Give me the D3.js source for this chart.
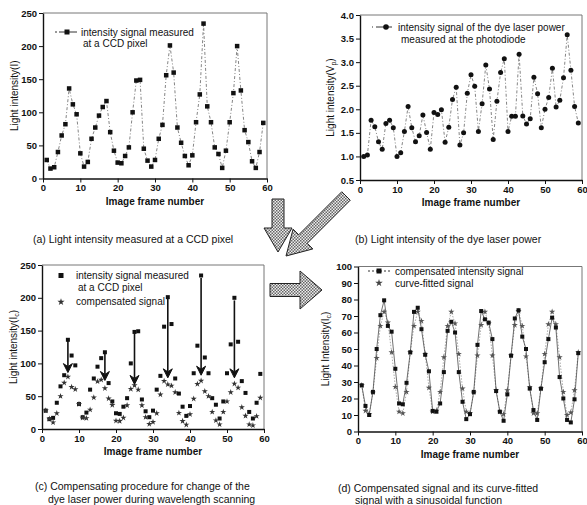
<!DOCTYPE html>
<html><head><meta charset="utf-8">
<script src="https://cdn.jsdelivr.net/npm/d3@7"></script>
<style>
body{margin:0;background:#fff}
svg{display:block}
text{font-family:"Liberation Sans",Arial,sans-serif;fill:#111}
</style>
</head><body>
<svg id="chart" width="587" height="505"></svg>
<script>
// ---------------- data ----------------
const frames = [1,2,3,4,5,6,7,8,9,10,11,12,13,14,15,16,17,18,19,20,21,22,23,24,25,26,27,28,29,30,
  31,32,33,34,35,36,37,38,39,40,41,42,43,44,45,46,47,48,49,50,51,52,53,54,55,56,57,58,59];
const ccdSignal = [28,15,17,40,65,82,136,112,97,38,18,25,60,77,95,108,117,70,42,24,23,34,47,100,148,149,
  45,27,18,28,60,81,156,201,160,77,54,34,20,35,85,127,234,109,85,47,37,16,42,85,129,200,133,73,55,26,16,40,84];
const laserPower = [1.00,1.03,1.77,1.63,1.31,1.15,1.70,1.77,1.61,1.00,1.08,1.53,2.06,1.61,1.31,1.44,1.88,1.51,
  1.15,1.93,1.89,1.99,1.30,1.62,2.21,2.47,1.24,1.50,2.34,2.73,2.49,1.53,2.12,2.94,2.43,1.36,2.17,2.78,3.07,
  1.53,1.85,1.85,3.17,1.86,1.69,1.80,2.68,2.33,1.61,2.00,2.25,2.87,2.05,2.19,2.67,3.58,2.83,2.06,1.71];
const compensated = [28,15.5,10,24,50,70.5,79.5,64,60.5,38,17,16.5,29.5,48,72.5,75,62,46.5,36.5,12.5,12,17,
  36,61,66.5,60,36,18,7.5,10.5,24,52.5,73,68,66,56,24.5,12,6.5,22.5,46,68.5,73.5,57.5,50,26,13,7,26,42,56,69,63,
  33,20,7,5.5,19.5,47.5];
const curveFitted = [28,12.5,10.5,23.5,44.5,64,72.5,66,48,27,12,11,24,48,64,72.5,67,47,26.5,12,12.5,24,
  45,64,72.5,65.5,47,26,12,11,23.5,46,64.5,72.5,65.5,46,25,12,10.5,25,46,64.5,73,64,45.5,27,11,11,26,47,65,
  72.5,65,45,24,10,11.5,25,48];
const arrowFrames = [7,17,25,34,43,52];
const arrowFrom   = [134,115,146,198,230,196];
const arrowTo     = [86,74,68,78,82,78];
const xTicks  = [0,10,20,30,40,50,60];
const yTicksI = [0,50,100,150,200,250];
const yTicksV = [0.5,1.0,1.5,2.0,2.5,3.0,3.5,4.0];
const yTicksC = [0,10,20,30,40,50,60,70,80,90,100];

// ---------------- drawing ----------------
const svg = d3.select("#chart");
const defs = svg.append("defs");
const pat = defs.append("pattern").attr("id","hatch").attr("patternUnits","userSpaceOnUse")
  .attr("width",3).attr("height",3);
pat.append("rect").attr("width",3).attr("height",3).attr("fill","#eee");
pat.append("rect").attr("width",1.5).attr("height",1.5).attr("fill","#666");
pat.append("rect").attr("x",1.5).attr("y",1.5).attr("width",1.5).attr("height",1.5).attr("fill","#666");

function panel(cfg){
  const x = d3.scaleLinear().domain([0,60]).range([cfg.x0,cfg.x1]);
  const y = d3.scaleLinear().domain(cfg.yDomain).range([cfg.yBot,cfg.yTop]);
  const g = svg.append("g");
  g.append("line").attr("x1",cfg.x0).attr("x2",cfg.x1).attr("y1",cfg.yTop).attr("y2",cfg.yTop)
    .attr("stroke","#777").attr("stroke-width",1);
  g.append("line").attr("x1",cfg.x1).attr("x2",cfg.x1).attr("y1",cfg.yTop).attr("y2",cfg.yBot)
    .attr("stroke","#777").attr("stroke-width",1);
  const ax = g.append("g").attr("transform",`translate(0,${cfg.yBot})`)
    .call(d3.axisBottom(x).tickValues(xTicks).tickSize(4).tickSizeOuter(0).tickPadding(2));
  const ay = g.append("g").attr("transform",`translate(${cfg.x0},0)`)
    .call(d3.axisLeft(y).tickValues(cfg.yTicks).tickSize(4).tickSizeOuter(0).tickPadding(2)
      .tickFormat(cfg.fmt));
  [ax,ay].forEach(a=>{
    a.select(".domain").attr("stroke","#111").attr("stroke-width",1.4);
    a.selectAll(".tick line").attr("stroke","#111").attr("stroke-width",1);
    a.selectAll(".tick text").attr("font-size",9.5).attr("font-weight","bold").attr("fill","#222")
      .style("font-family","Liberation Sans, Arial, sans-serif");
  });
  g.append("text").attr("x",(cfg.x0+cfg.x1)/2).attr("y",cfg.yBot+26).attr("text-anchor","middle")
    .attr("font-size",10).attr("font-weight","bold").attr("fill","#333").text("Image frame number");
  const yt = g.append("text").attr("transform",`translate(${cfg.yTitleX},${(cfg.yTop+cfg.yBot)/2}) rotate(-90)`)
    .attr("text-anchor","middle").attr("font-size",10).attr("fill","#333");
  yt.append("tspan").text(cfg.yTitle);
  if(cfg.ySub){
    yt.append("tspan").attr("font-size",7).attr("dy",2).text(cfg.ySub);
    yt.append("tspan").attr("dy",-2).text(")");
  }
  return {x,y,g};
}

function dashedLine(g,x,y,vals,style){
  const line = d3.line().x((d,i)=>x(frames[i])).y(d=>y(d));
  g.append("path").attr("d",line(vals)).attr("fill","none")
    .attr("stroke",style.stroke).attr("stroke-width",style.w).attr("stroke-dasharray",style.dash);
}
function squares(g,x,y,vals,s){
  g.selectAll(null).data(vals).join("rect")
    .attr("x",(d,i)=>x(frames[i])-s/2).attr("y",d=>y(d)-s/2).attr("width",s).attr("height",s).attr("fill","#111");
}
function stars(g,x,y,vals,size,fill){
  const sym = d3.symbol().type(d3.symbolStar).size(size);
  g.selectAll(null).data(vals).join("path").attr("d",sym())
    .attr("transform",(d,i)=>`translate(${x(frames[i])},${y(d)})`).attr("fill",fill);
}

// (a)
{
  const {x,y,g} = panel({x0:43,x1:267,yTop:13,yBot:178.5,yDomain:[0,250],yTicks:yTicksI,fmt:d3.format("d"),
    yTitle:"Light intensity(I)",yTitleX:18});
  dashedLine(g,x,y,ccdSignal,{stroke:"#666",w:0.8,dash:"3,2,1,2"});
  squares(g,x,y,ccdSignal,4.5);
  g.append("line").attr("x1",55).attr("x2",78).attr("y1",32).attr("y2",32).attr("stroke","#333")
    .attr("stroke-width",1).attr("stroke-dasharray","2,2,6,0");
  g.append("rect").attr("x",64.5).attr("y",29.5).attr("width",5).attr("height",5).attr("fill","#111");
  g.append("text").attr("x",81).attr("y",35.5).attr("font-size",10).text("intensity signal measured");
  g.append("text").attr("x",83).attr("y",47).attr("font-size",10).text("at a CCD pixel");
}
// (b)
{
  const {x,y,g} = panel({x0:360,x1:582,yTop:15,yBot:180,yDomain:[0.5,4.0],yTicks:yTicksV,fmt:d3.format(".1f"),
    yTitle:"Light intensity(V",ySub:"p",yTitleX:334});
  dashedLine(g,x,y,laserPower,{stroke:"#666",w:0.8,dash:"3,2,1,2"});
  g.selectAll(null).data(laserPower).join("circle").attr("cx",(d,i)=>x(frames[i])).attr("cy",d=>y(d))
    .attr("r",2.5).attr("fill","#111");
  g.append("line").attr("x1",372).attr("x2",392).attr("y1",27).attr("y2",27).attr("stroke","#333")
    .attr("stroke-width",1).attr("stroke-dasharray","1,3,8,0");
  g.append("circle").attr("cx",386).attr("cy",27).attr("r",2.8).attr("fill","#111");
  g.append("text").attr("x",398).attr("y",30.5).attr("font-size",10).text("intensity signal of the dye laser power");
  g.append("text").attr("x",401).attr("y",43).attr("font-size",10).text("measured at the photodiode");
}
// (c)
{
  const {x,y,g} = panel({x0:42,x1:264,yTop:265,yBot:429,yDomain:[0,250],yTicks:yTicksI,fmt:d3.format("d"),
    yTitle:"Light intensity(I",ySub:"c",yTitleX:17});
  squares(g,x,y,ccdSignal,4);
  stars(g,x,y,compensated,12,"#333");
  arrowFrames.forEach((f,i)=>{
    const xx = x(f), y1 = y(arrowFrom[i]), y2 = y(arrowTo[i]);
    g.append("line").attr("x1",xx).attr("x2",xx).attr("y1",y1).attr("y2",y2-6).attr("stroke","#111").attr("stroke-width",1.6);
    g.append("path").attr("d",`M${xx-4.5},${y2-9} L${xx},${y2} L${xx+4.5},${y2-9} L${xx},${y2-6}Z`)
      .attr("fill","#111").attr("stroke","#111").attr("stroke-width",1);
  });
  g.append("rect").attr("x",58.5).attr("y",273).attr("width",5).attr("height",5).attr("fill","#111");
  g.append("text").attr("x",76).attr("y",279).attr("font-size",10).text("intensity signal measured");
  g.append("text").attr("x",78).attr("y",291).attr("font-size",10).text("at a CCD pixel");
  g.append("path").attr("d",d3.symbol().type(d3.symbolStar).size(16)()).attr("transform","translate(61,302)").attr("fill","#333");
  g.append("text").attr("x",76).attr("y",305).attr("font-size",10).text("compensated signal");
}
// (d)
{
  const {x,y,g} = panel({x0:358,x1:582,yTop:266.5,yBot:431.5,yDomain:[0,100],yTicks:yTicksC,fmt:d3.format("d"),
    yTitle:"Light Intensity(I",ySub:"c",yTitleX:329});
  dashedLine(g,x,y,curveFitted,{stroke:"#888",w:0.7,dash:"1.5,1.5"});
  dashedLine(g,x,y,compensated,{stroke:"#333",w:0.7,dash:"none"});
  stars(g,x,y,curveFitted,12,"#555");
  squares(g,x,y,compensated,4);
  g.append("line").attr("x1",368).attr("x2",390).attr("y1",271).attr("y2",271).attr("stroke","#333")
    .attr("stroke-width",1).attr("stroke-dasharray","2,2");
  g.append("rect").attr("x",376.5).attr("y",268.5).attr("width",5).attr("height",5).attr("fill","#111");
  g.append("text").attr("x",395).attr("y",274.5).attr("font-size",10).text("compensated intensity signal");
  g.append("path").attr("d",d3.symbol().type(d3.symbolStar).size(18)()).attr("transform","translate(379,283)").attr("fill","#444");
  g.append("text").attr("x",395).attr("y",286.5).attr("font-size",10).text("curve-fitted signal");
}

// captions
const caps = [
  {x:33,y:243,t:"(a) Light intensity measured at a CCD pixel"},
  {x:355,y:243,t:"(b) Light intensity of the dye laser power"},
  {x:35,y:490,t:"(c) Compensating procedure for change of the"},
  {x:48,y:503,t:"dye laser power during wavelength scanning"},
  {x:338,y:492,t:"(d) Compensated signal and its curve-fitted"},
  {x:355,y:504,t:"signal with a sinusoidal function"}
];
svg.selectAll(null).data(caps).join("text").attr("x",d=>d.x).attr("y",d=>d.y)
  .attr("font-size",10.5).attr("fill","#222").text(d=>d.t);

// big hatched arrows
function bigArrow(x1,y1,x2,y2,shaftW,headW,headL){
  const dx=x2-x1, dy=y2-y1, L=Math.hypot(dx,dy), ux=dx/L, uy=dy/L, px=-uy, py=ux;
  const bx=x2-ux*headL, by=y2-uy*headL;
  const pts=[[x1+px*shaftW/2,y1+py*shaftW/2],[bx+px*shaftW/2,by+py*shaftW/2],[bx+px*headW/2,by+py*headW/2],
    [x2,y2],[bx-px*headW/2,by-py*headW/2],[bx-px*shaftW/2,by-py*shaftW/2],[x1-px*shaftW/2,y1-py*shaftW/2]];
  svg.append("path").attr("d","M"+pts.map(p=>p.join(",")).join("L")+"Z")
    .attr("fill","url(#hatch)").attr("stroke","#222").attr("stroke-width",1);
}
bigArrow(278,199,278,252,12,28,24);
bigArrow(346,196,286,256,12,28,24);
bigArrow(270,290,322,290,13,38,22);
</script>
</body></html>
